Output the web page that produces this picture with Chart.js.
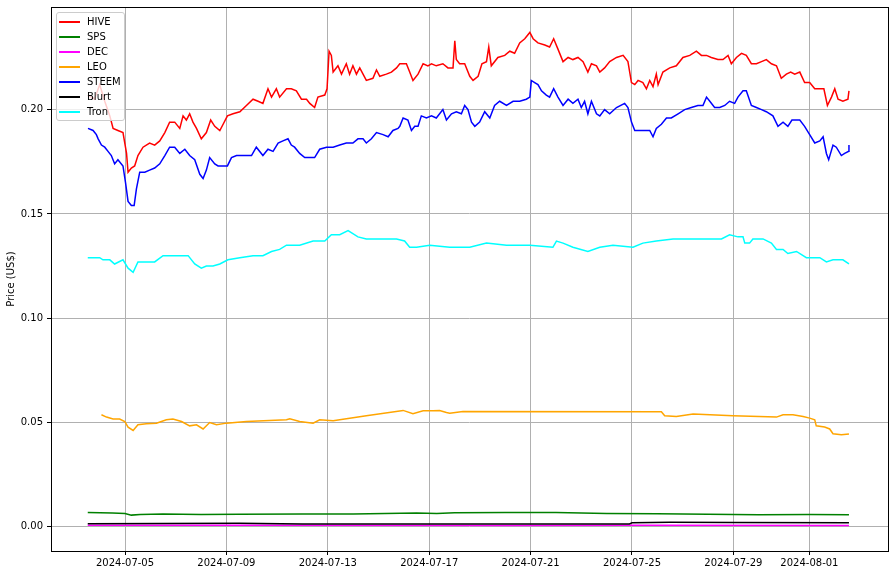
<!DOCTYPE html>
<html>
<head>
<meta charset="utf-8">
<script src="https://cdn.jsdelivr.net/npm/chart.js@4"></script>
<style>
  body { margin: 0; background: #fff; }
  #wrap { position: relative; width: 894px; height: 575px; }
  #legend {
    position: absolute; left: 56px; top: 12px; width: 67px; height: 106px;
    border: 1px solid #cccccc; border-radius: 3px; background: rgba(255,255,255,0.8);
    font: 10px "DejaVu Sans", sans-serif; color: #000; padding-top: 1px;
  }
  #legend .row { height: 15px; line-height: 15px; white-space: nowrap; }
  #legend .swatch { display: inline-block; width: 21px; height: 1.5px; margin: 0 7px 0 2px; vertical-align: middle; }
</style>
</head>
<body>
<div id="wrap">
  <canvas id="priceChart" width="894" height="575"></canvas>
  <div id="legend"></div>
</div>
<script>
// [day of July 2024, price US$]  (32 = 2024-08-01)
const hive = [[3.53,0.207],[3.8,0.205],[4.00,0.212],[4.20,0.204],[4.40,0.197],[4.53,0.191],[4.72,0.190],[4.92,0.189],[5.06,0.179],[5.12,0.170],[5.25,0.172],[5.38,0.173],[5.51,0.178],[5.71,0.182],[5.97,0.184],[6.17,0.183],[6.37,0.185],[6.57,0.189],[6.76,0.194],[6.96,0.194],[7.16,0.191],[7.29,0.197],[7.42,0.195],[7.55,0.198],[7.68,0.194],[7.82,0.191],[8.01,0.186],[8.21,0.189],[8.38,0.195],[8.54,0.192],[8.74,0.190],[8.87,0.193],[9.04,0.197],[9.26,0.198],[9.53,0.199],[9.79,0.202],[10.05,0.205],[10.25,0.204],[10.44,0.203],[10.64,0.210],[10.78,0.206],[10.97,0.210],[11.10,0.206],[11.37,0.210],[11.56,0.210],[11.76,0.209],[11.96,0.205],[12.16,0.205],[12.29,0.203],[12.48,0.201],[12.61,0.206],[12.88,0.207],[12.97,0.210],[13.05,0.228],[13.14,0.226],[13.21,0.218],[13.40,0.221],[13.54,0.217],[13.73,0.222],[13.86,0.217],[13.99,0.221],[14.13,0.217],[14.26,0.220],[14.39,0.217],[14.52,0.214],[14.78,0.215],[14.92,0.219],[15.05,0.216],[15.31,0.217],[15.51,0.218],[15.71,0.220],[15.84,0.222],[16.10,0.222],[16.23,0.218],[16.36,0.214],[16.56,0.217],[16.76,0.222],[16.95,0.221],[17.09,0.222],[17.28,0.221],[17.54,0.222],[17.74,0.220],[17.94,0.220],[18.01,0.233],[18.07,0.224],[18.20,0.222],[18.40,0.222],[18.60,0.216],[18.73,0.214],[18.93,0.216],[19.08,0.222],[19.26,0.223],[19.35,0.230],[19.45,0.221],[19.71,0.225],[19.98,0.226],[20.18,0.228],[20.37,0.227],[20.57,0.232],[20.77,0.234],[20.97,0.237],[21.10,0.234],[21.29,0.232],[21.56,0.231],[21.75,0.230],[21.91,0.234],[22.08,0.229],[22.28,0.223],[22.48,0.225],[22.67,0.224],[22.87,0.225],[23.07,0.223],[23.26,0.218],[23.40,0.222],[23.60,0.221],[23.73,0.218],[23.92,0.220],[24.12,0.223],[24.39,0.225],[24.65,0.226],[24.84,0.223],[24.98,0.213],[25.11,0.212],[25.24,0.214],[25.43,0.213],[25.57,0.210],[25.70,0.214],[25.83,0.211],[25.96,0.217],[26.03,0.212],[26.22,0.218],[26.49,0.220],[26.75,0.221],[27.01,0.225],[27.28,0.226],[27.54,0.228],[27.74,0.226],[27.94,0.226],[28.13,0.225],[28.39,0.224],[28.59,0.224],[28.79,0.226],[28.92,0.222],[29.12,0.225],[29.32,0.227],[29.51,0.226],[29.71,0.222],[29.91,0.222],[30.11,0.223],[30.30,0.224],[30.50,0.222],[30.70,0.221],[30.89,0.215],[31.09,0.217],[31.26,0.218],[31.42,0.217],[31.62,0.218],[31.81,0.213],[32.01,0.213],[32.21,0.210],[32.41,0.210],[32.57,0.210],[32.71,0.202],[32.87,0.206],[33.00,0.210],[33.13,0.205],[33.32,0.204],[33.52,0.205],[33.56,0.209]];

const steem = [[3.54,0.191],[3.74,0.190],[3.87,0.188],[3.94,0.186],[4.07,0.183],[4.20,0.182],[4.33,0.180],[4.46,0.178],[4.59,0.174],[4.72,0.176],[4.92,0.173],[5.02,0.165],[5.12,0.156],[5.25,0.154],[5.36,0.154],[5.45,0.162],[5.58,0.170],[5.78,0.170],[5.97,0.171],[6.17,0.172],[6.37,0.174],[6.57,0.178],[6.76,0.182],[6.96,0.182],[7.16,0.179],[7.36,0.181],[7.55,0.178],[7.75,0.176],[7.95,0.169],[8.08,0.167],[8.21,0.171],[8.34,0.177],[8.54,0.174],[8.67,0.173],[8.87,0.173],[9.04,0.173],[9.20,0.177],[9.40,0.178],[9.66,0.178],[9.79,0.178],[9.99,0.178],[10.18,0.182],[10.44,0.178],[10.64,0.181],[10.84,0.180],[11.04,0.184],[11.23,0.185],[11.43,0.186],[11.56,0.183],[11.69,0.182],[11.89,0.179],[12.09,0.177],[12.29,0.177],[12.48,0.177],[12.68,0.181],[12.95,0.182],[13.21,0.182],[13.47,0.183],[13.73,0.184],[13.99,0.184],[14.19,0.186],[14.39,0.186],[14.52,0.184],[14.72,0.186],[14.92,0.189],[15.18,0.188],[15.38,0.187],[15.57,0.190],[15.77,0.191],[15.84,0.192],[15.97,0.196],[16.16,0.195],[16.30,0.190],[16.43,0.192],[16.56,0.192],[16.69,0.197],[16.89,0.196],[17.09,0.197],[17.28,0.196],[17.54,0.200],[17.68,0.195],[17.88,0.198],[18.07,0.199],[18.27,0.198],[18.40,0.202],[18.53,0.200],[18.67,0.194],[18.80,0.192],[18.99,0.194],[19.19,0.199],[19.39,0.196],[19.58,0.202],[19.78,0.204],[20.05,0.202],[20.31,0.204],[20.57,0.204],[20.83,0.205],[20.97,0.206],[21.03,0.214],[21.16,0.213],[21.29,0.212],[21.43,0.209],[21.62,0.207],[21.75,0.206],[21.91,0.210],[22.08,0.206],[22.28,0.202],[22.48,0.205],[22.67,0.203],[22.87,0.205],[23.00,0.201],[23.13,0.204],[23.26,0.198],[23.40,0.204],[23.60,0.198],[23.73,0.197],[23.92,0.200],[24.12,0.198],[24.39,0.201],[24.71,0.203],[24.84,0.201],[24.98,0.194],[25.11,0.190],[25.30,0.190],[25.50,0.190],[25.70,0.190],[25.83,0.187],[25.96,0.191],[26.16,0.193],[26.36,0.196],[26.55,0.196],[26.82,0.198],[27.08,0.200],[27.34,0.201],[27.60,0.202],[27.80,0.202],[27.94,0.206],[28.07,0.204],[28.26,0.201],[28.46,0.201],[28.66,0.202],[28.85,0.204],[29.05,0.203],[29.18,0.206],[29.38,0.209],[29.51,0.209],[29.71,0.202],[29.91,0.201],[30.11,0.200],[30.30,0.199],[30.56,0.197],[30.76,0.192],[30.96,0.194],[31.15,0.192],[31.31,0.195],[31.49,0.195],[31.62,0.195],[31.81,0.192],[32.01,0.188],[32.21,0.184],[32.41,0.185],[32.54,0.187],[32.67,0.179],[32.76,0.176],[32.93,0.183],[33.06,0.182],[33.26,0.178],[33.39,0.179],[33.55,0.180],[33.56,0.183]];

const tron = [[3.53,0.129],[4.00,0.129],[4.13,0.128],[4.40,0.128],[4.59,0.126],[4.92,0.128],[5.12,0.124],[5.32,0.122],[5.51,0.127],[5.84,0.127],[6.17,0.127],[6.50,0.130],[6.89,0.130],[7.23,0.130],[7.49,0.130],[7.75,0.126],[8.01,0.124],[8.21,0.125],[8.47,0.125],[8.74,0.126],[9.06,0.128],[9.53,0.129],[10.05,0.130],[10.44,0.130],[10.78,0.132],[11.10,0.133],[11.37,0.135],[11.89,0.135],[12.42,0.137],[12.88,0.137],[13.14,0.140],[13.47,0.140],[13.80,0.142],[14.19,0.139],[14.52,0.138],[15.18,0.138],[15.71,0.138],[16.03,0.137],[16.23,0.134],[16.50,0.134],[17.02,0.135],[17.81,0.134],[18.20,0.134],[18.60,0.134],[19.26,0.136],[20.05,0.135],[20.97,0.135],[21.88,0.134],[22.02,0.137],[22.28,0.136],[22.67,0.134],[23.26,0.132],[23.73,0.134],[24.25,0.135],[25.04,0.134],[25.43,0.136],[25.96,0.137],[26.62,0.138],[27.28,0.138],[27.94,0.138],[28.53,0.138],[28.85,0.140],[29.18,0.139],[29.38,0.139],[29.45,0.136],[29.64,0.136],[29.77,0.138],[30.17,0.138],[30.50,0.136],[30.70,0.133],[30.96,0.133],[31.15,0.131],[31.49,0.132],[31.88,0.129],[32.41,0.129],[32.67,0.127],[32.93,0.128],[33.32,0.128],[33.56,0.126]];

const leo = [[4.07,0.0537],[4.27,0.0526],[4.53,0.0517],[4.79,0.0517],[4.99,0.0505],[5.12,0.0478],[5.32,0.0462],[5.51,0.0489],[5.84,0.0494],[6.24,0.0497],[6.63,0.0513],[6.89,0.0517],[7.23,0.0505],[7.55,0.0484],[7.82,0.0489],[8.08,0.0469],[8.34,0.0500],[8.61,0.0489],[9.00,0.0497],[9.79,0.0505],[11.37,0.0513],[11.50,0.0518],[11.89,0.0505],[12.42,0.0497],[12.68,0.0513],[13.21,0.0508],[14.52,0.0532],[15.97,0.0558],[16.36,0.0542],[16.76,0.0556],[17.15,0.0556],[17.41,0.0558],[17.68,0.0548],[17.81,0.0545],[18.33,0.0553],[26.16,0.0552],[26.29,0.0532],[26.75,0.0529],[27.41,0.0541],[28.98,0.0532],[30.70,0.0526],[30.96,0.0537],[31.35,0.0537],[31.75,0.0529],[32.01,0.0521],[32.21,0.0513],[32.27,0.0484],[32.60,0.0478],[32.80,0.0469],[32.93,0.0446],[33.26,0.0441],[33.56,0.0445]];

const sps = [[3.53,0.0069],[4.50,0.0066],[5.00,0.0064],[5.25,0.0056],[5.60,0.0059],[6.50,0.0061],[8.00,0.0059],[9.50,0.0060],[12.00,0.0061],[14.00,0.0061],[16.50,0.0066],[17.30,0.0064],[18.00,0.0067],[20.00,0.0068],[22.00,0.0068],[24.00,0.0064],[26.00,0.0062],[28.00,0.0060],[30.00,0.0058],[32.00,0.0059],[33.56,0.0058]];

const dec = [[3.53,0.0007],[10.00,0.0007],[20.00,0.0006],[25.00,0.0007],[33.56,0.0006]];

const blurt = [[3.53,0.0015],[9.50,0.0017],[12.00,0.0014],[24.90,0.0014],[25.00,0.0019],[26.50,0.0022],[29.00,0.0021],[33.56,0.0019]];

const seriesNames = ['HIVE', 'SPS', 'DEC', 'LEO', 'STEEM', 'Blurt', 'Tron'];
const seriesData = [hive, sps, dec, leo, steem, blurt, tron];
const seriesColors = ['#ff0000', '#008000', '#ff00ff', '#ffa500', '#0000ff', '#000000', '#00ffff'];

const tickDays = [5, 9, 13, 17, 21, 25, 29, 32];
const tickLabels = ['2024-07-05', '2024-07-09', '2024-07-13', '2024-07-17', '2024-07-21', '2024-07-25', '2024-07-29', '2024-08-01'];
const yTicks = [0, 0.05, 0.10, 0.15, 0.20];
const yTickLabels = ['0.00', '0.05', '0.10', '0.15', '0.20'];

const font = { family: 'DejaVu Sans', size: 10 };

const frame = {
    id: 'frame',
    afterDraw(chart) {
        const { ctx, chartArea: a } = chart;
        ctx.save();
        ctx.strokeStyle = '#000';
        ctx.lineWidth = 1;
        ctx.strokeRect(a.left + 0.5, a.top + 0.5, a.right - a.left, a.bottom - a.top);
        ctx.restore();
    }
};

const ctx = document.getElementById('priceChart').getContext('2d');

window.priceChart = new Chart(ctx, {
    type: 'line',
    data: {
        datasets: seriesNames.map((name, i) => ({
            label: name,
            data: seriesData[i].map(p => ({ x: p[0], y: p[1] })),
            borderColor: seriesColors[i],
            backgroundColor: seriesColors[i],
            borderWidth: 1.5,
            pointRadius: 0,
            tension: 0,
            fill: false,
            order: seriesNames.length - i
        }))
    },
    options: {
        responsive: false,
        animation: false,
        layout: { padding: { top: 7, right: 6, left: 0, bottom: 0 } },
        plugins: {
            legend: { display: false },
            tooltip: { enabled: false }
        },
        scales: {
            x: {
                type: 'linear',
                min: 2.08,
                max: 35.1,
                afterBuildTicks: s => { s.ticks = tickDays.map(v => ({ value: v })); },
                afterFit: s => { s.height = 24; s.paddingLeft = 0; s.paddingRight = 0; },
                ticks: {
                    callback: v => tickLabels[tickDays.indexOf(v)],
                    autoSkip: false,
                    maxRotation: 0,
                    padding: 2,
                    color: '#000',
                    font: font
                },
                grid: { color: '#b0b0b0', tickColor: '#000', tickLength: 4 },
                border: { display: false }
            },
            y: {
                type: 'linear',
                min: -0.0116,
                max: 0.2492,
                afterBuildTicks: s => { s.ticks = yTicks.map(v => ({ value: v })); },
                afterFit: s => { s.width = 51; s.paddingTop = 0; s.paddingBottom = 0; },
                ticks: {
                    callback: (v, i) => yTickLabels[i],
                    padding: 4,
                    color: '#000',
                    font: font
                },
                title: {
                    display: true,
                    text: 'Price (US$)',
                    color: '#000',
                    font: font,
                    padding: { top: 5, bottom: 0 }
                },
                grid: { color: '#b0b0b0', tickColor: '#000', tickLength: 4 },
                border: { display: false }
            }
        }
    },
    plugins: [frame]
});

// legend in the upper left corner of the plot, like the original
const legendBox = document.getElementById('legend');
seriesNames.forEach((name, i) => {
    const row = document.createElement('div');
    row.className = 'row';
    row.innerHTML = '<span class="swatch" style="background:' + seriesColors[i] + '"></span>' + name;
    legendBox.appendChild(row);
});
</script>
</body>
</html>
